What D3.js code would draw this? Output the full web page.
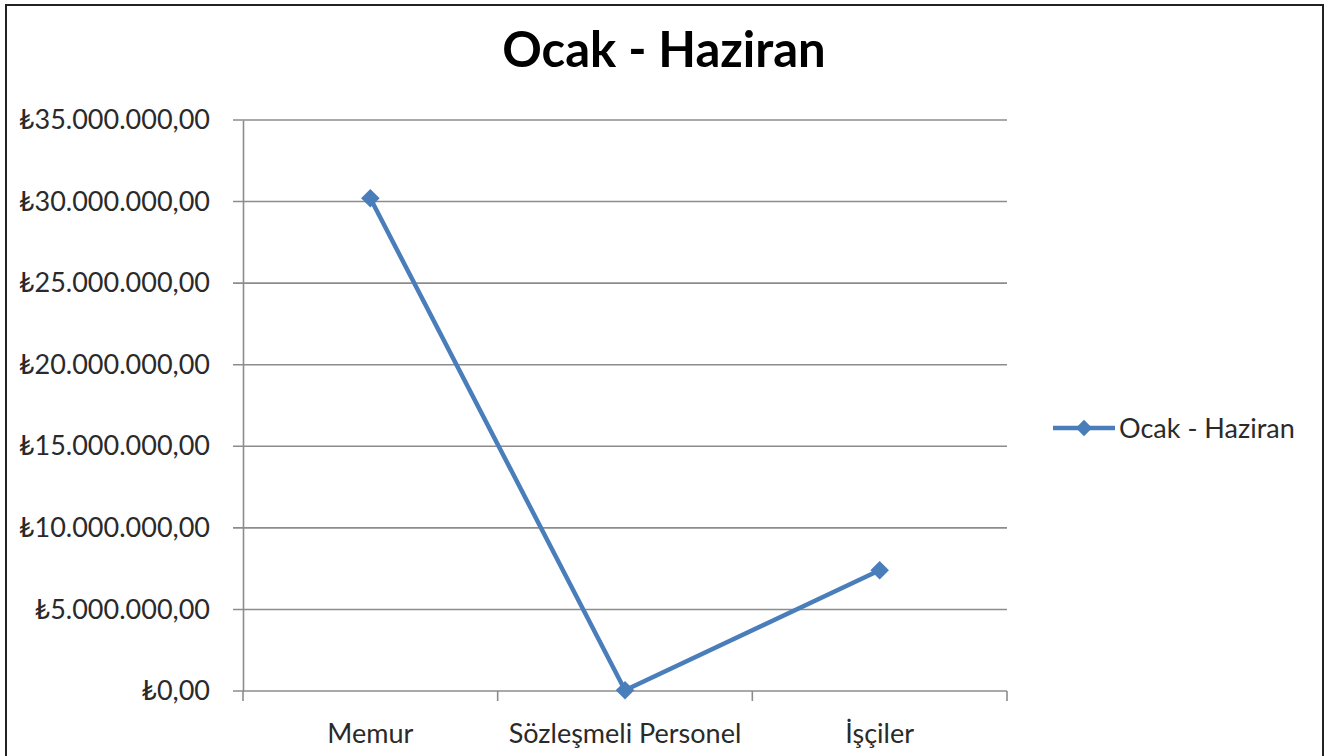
<!DOCTYPE html>
<html>
<head>
<meta charset="utf-8">
<script src="https://cdn.jsdelivr.net/npm/d3@7"></script>
<style>
  body { margin: 0; background: #fff; }
  text { font-family: Lato, "Open Sans", sans-serif; fill: #2a2a2a; }
</style>
</head>
<body>
<div id="chart"></div>
<script>
// data
var categories = ["Memur", "Sözleşmeli Personel", "İşçiler"]
var values = [30200000, 50000, 7400000]
var yTicks = [0, 5000000, 10000000, 15000000, 20000000, 25000000, 30000000, 35000000]
var seriesName = "Ocak - Haziran"

var svgWidth = 1333
var svgHeight = 756

var margin = { top: 120, left: 243, right: 326, bottom: 65 }
var width = svgWidth - margin.left - margin.right
var height = svgHeight - margin.top - margin.bottom

var svg = d3.select("#chart").append("svg")
  .attr("width", svgWidth)
  .attr("height", svgHeight)

// frame
svg.append("rect")
  .attr("x", 6).attr("y", 5)
  .attr("width", 1317).attr("height", 760)
  .attr("fill", "none")
  .attr("stroke", "#222")
  .attr("stroke-width", 2)

svg.append("text")
  .attr("x", 664).attr("y", 67)
  .attr("text-anchor", "middle")
  .style("font-size", "49px")
  .style("font-weight", "bold")
  .style("fill", "#000")
  .text(seriesName)

var chartGroup = svg.append("g")
  .attr("transform", `translate(${margin.left}, ${margin.top})`)

var xScale = d3.scaleBand().domain(categories).range([0, width])
var yScale = d3.scaleLinear().domain([0, 35000000]).range([height, 0])

var trLocale = d3.formatLocale({ decimal: ",", thousands: ".", grouping: [3], currency: ["", ""] })
var fmt = d => "₺" + trLocale.format(",.2f")(d)

// gridlines
chartGroup.append("g")
  .selectAll("line")
  .data(yTicks)
  .enter()
  .append("line")
  .attr("x1", -10).attr("x2", width)
  .attr("y1", d => yScale(d)).attr("y2", d => yScale(d))
  .attr("stroke", "#8c8c8c")
  .attr("stroke-width", 1.6)

// y axis
var yAxis = chartGroup.append("g")
  .call(d3.axisLeft(yScale).tickValues(yTicks).tickFormat(fmt).tickSize(0).tickPadding(33))
yAxis.select(".domain").attr("stroke", "#8c8c8c").attr("stroke-width", 1.6)
yAxis.selectAll(".tick line").remove()
yAxis.selectAll("text").style("font-size", "27px").style("fill", "#2a2a2a")

// x axis
var xAxis = chartGroup.append("g")
  .attr("transform", `translate(0, ${height})`)
  .call(d3.axisBottom(xScale).tickSize(0).tickPadding(33))
xAxis.select(".domain").remove()
xAxis.selectAll("text").style("font-size", "27px").style("fill", "#2a2a2a")

// category boundary ticks
chartGroup.append("g")
  .selectAll("line")
  .data(d3.range(categories.length + 1))
  .enter()
  .append("line")
  .attr("x1", d => d * xScale.step()).attr("x2", d => d * xScale.step())
  .attr("y1", height).attr("y2", height + 10)
  .attr("stroke", "#8c8c8c")
  .attr("stroke-width", 1.6)

var blue = "#4a7ebb"

var line = d3.line()
  .x((d, i) => xScale(categories[i]) + xScale.bandwidth() / 2)
  .y(d => yScale(d))

chartGroup.append("path")
  .datum(values)
  .attr("d", line)
  .attr("fill", "none")
  .attr("stroke", blue)
  .attr("stroke-width", 4.5)
  .attr("stroke-linejoin", "round")

var diamond = d3.symbol().type(d3.symbolDiamond2).size(220)

chartGroup.selectAll(".marker")
  .data(values)
  .enter()
  .append("path")
  .attr("class", "marker")
  .attr("d", diamond)
  .attr("transform", (d, i) => `translate(${xScale(categories[i]) + xScale.bandwidth() / 2}, ${yScale(d)})`)
  .attr("fill", blue)

// legend
var legend = svg.append("g").attr("transform", "translate(1053, 428)")
legend.append("line")
  .attr("x1", 0).attr("x2", 62)
  .attr("stroke", blue).attr("stroke-width", 4.5)
legend.append("path")
  .attr("d", d3.symbol().type(d3.symbolDiamond2).size(170))
  .attr("transform", "translate(31, 0)")
  .attr("fill", blue)
legend.append("text")
  .attr("x", 66).attr("y", 10)
  .style("font-size", "27px")
  .text(seriesName)
</script>
</body>
</html>
